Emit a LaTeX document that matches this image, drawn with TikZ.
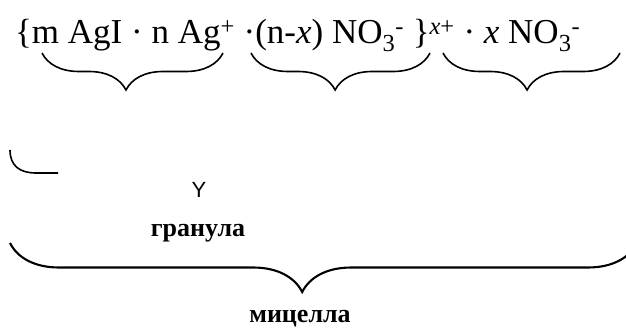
\documentclass[tikz,border=0pt]{standalone}
\usepackage{fontspec}
\setmainfont{Liberation Serif}
\newfontfamily\glyphfont{Liberation Sans}
\usetikzlibrary{decorations.pathreplacing,positioning}
\tikzset{
  formula/.style={
    inner sep=0pt,
    anchor=base west,
    font=\fontsize{35}{40}\selectfont
  },
  caption/.style={
    inner sep=0pt,
    anchor=base,
    font=\fontsize{26}{30}\selectfont\bfseries
  },
  tipglyph/.style={
    inner sep=0pt,
    anchor=base,
    font=\fontsize{22}{26}\selectfont\glyphfont
  },
  underbrace/.style={
    decorate,
    decoration={brace, mirror, amplitude=37pt, aspect=#1},
    line width=1.6pt
  },
  bigbrace/.style={
    decorate,
    decoration={brace, mirror, amplitude=49pt, aspect=#1},
    line width=2.1pt
  }
}

\begin{document}
\begin{tikzpicture}[x=1pt, y=-1pt]
  \useasboundingbox (0,0) rectangle (626,329);

  \node[formula] (micelle) at (15,44) {\{m AgI · n Ag\textsuperscript{+} ·(n-\textit{x}) NO\textsubscript{3}\textsuperscript{-} \}\textsuperscript{\textit{x}+} · \textit{x} NO\textsubscript{3}\textsuperscript{-}};

  \coordinate (core l) at (42,53);
  \coordinate (core r) at (223,53);
  \coordinate (ads l) at (251,53);
  \coordinate (ads r) at (430,53);
  \coordinate (diff l) at (443,53);
  \coordinate (diff r) at (620,53);
  \coordinate (all l) at (10,243);
  \coordinate (all r) at (637,243);
  \coordinate (frag top) at (10,150);
  \coordinate (frag end) at (58,173);

  \draw[underbrace=0.464] (core l) -- (core r);
  \draw[underbrace=0.47] (ads l) -- (ads r);
  \draw[underbrace=0.475] (diff l) -- (diff r);

  \draw[line width=1.6pt] (frag top) .. controls (10,166) and (20,173) .. (36,173) -- (frag end);

  \node[tipglyph] (tip) at (199,197) {Y};
  \node[caption] (granule) at (198,236) {гранула};

  \draw[bigbrace=0.466] (all l) -- (all r);
  \node[caption] (micelle label) at (300,322) {мицелла};
\end{tikzpicture}
\end{document}
